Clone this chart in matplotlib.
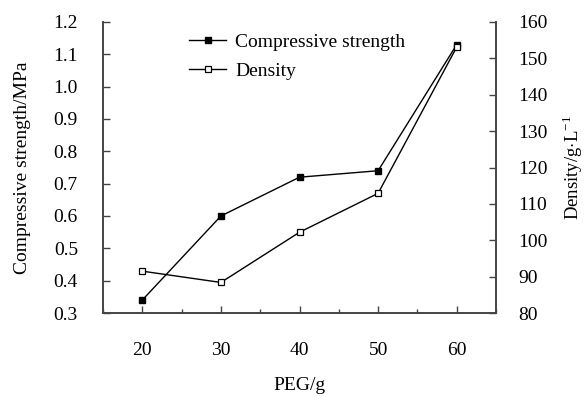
import numpy as np
import matplotlib.pyplot as plt
from matplotlib.ticker import MultipleLocator

plt.rcParams['font.family'] = ['Liberation Serif', 'DejaVu Serif']
plt.rcParams['mathtext.fontset'] = 'custom'
plt.rcParams['mathtext.rm'] = 'Liberation Serif'

peg = [20, 30, 40, 50, 60]
strength = [0.34, 0.60, 0.72, 0.74, 1.13]
density = [91.5, 88.4, 102.2, 112.9, 153.1]

fs = 14
fig = plt.figure(figsize=(5.86, 3.97), dpi=100)
ax = fig.add_axes([103/586, 1 - 313/397, (496 - 103)/586, (313 - 22)/397])
ax2 = ax.twinx()

l1, = ax.plot(peg, strength, color='black', lw=1.0, marker='s', ms=4.5,
              mfc='black', mec='black', label='Compressive strength')
l2, = ax2.plot(peg, density, color='black', lw=1.0, marker='s', ms=4.5,
               mfc='white', mec='black', mew=0.9, label='Density')

ax.set_xlim(15, 65)
ax.set_ylim(0.3, 1.2)
ax2.set_ylim(80, 160)
ax.set_xticks(peg)
ax.xaxis.set_minor_locator(MultipleLocator(5))
ax.yaxis.set_major_locator(MultipleLocator(0.1))
ax2.yaxis.set_major_locator(MultipleLocator(10))
ax.yaxis.set_major_formatter(plt.FormatStrFormatter('%.1f'))

spine_col = '#444444'
for a in (ax, ax2):
    a.spines['top'].set_visible(False)
    for s in a.spines.values():
        s.set_color(spine_col)
        s.set_linewidth(1.2)
ax.tick_params(axis='x', which='major', direction='in', length=5, pad=21,
               labelsize=fs, color=spine_col, width=1)
ax.tick_params(axis='x', which='minor', direction='in', length=3,
               color=spine_col, width=1)
ax.tick_params(axis='y', direction='in', length=5, pad=18, labelsize=fs,
               color=spine_col, width=1)
ax2.tick_params(axis='y', direction='in', length=5, pad=16, labelsize=fs,
                color=spine_col, width=1)

ax.set_xlabel('PEG/g', fontsize=fs, labelpad=13)
ax.set_ylabel('Compressive strength/MPa', fontsize=fs, labelpad=16)
ax2.set_ylabel(r'Density/g$\cdot$L$^{\mathregular{-1}}$', fontsize=13.5,
               labelpad=9, rotation=90)

ax.legend(handles=[l1, l2], loc='upper left', bbox_to_anchor=(0.19, 1.0),
          frameon=False, fontsize=fs, handlelength=1.9, handletextpad=0.45,
          labelspacing=0.55, borderaxespad=0.2, markerscale=0.85)

fig.savefig('out.png', dpi=100)
